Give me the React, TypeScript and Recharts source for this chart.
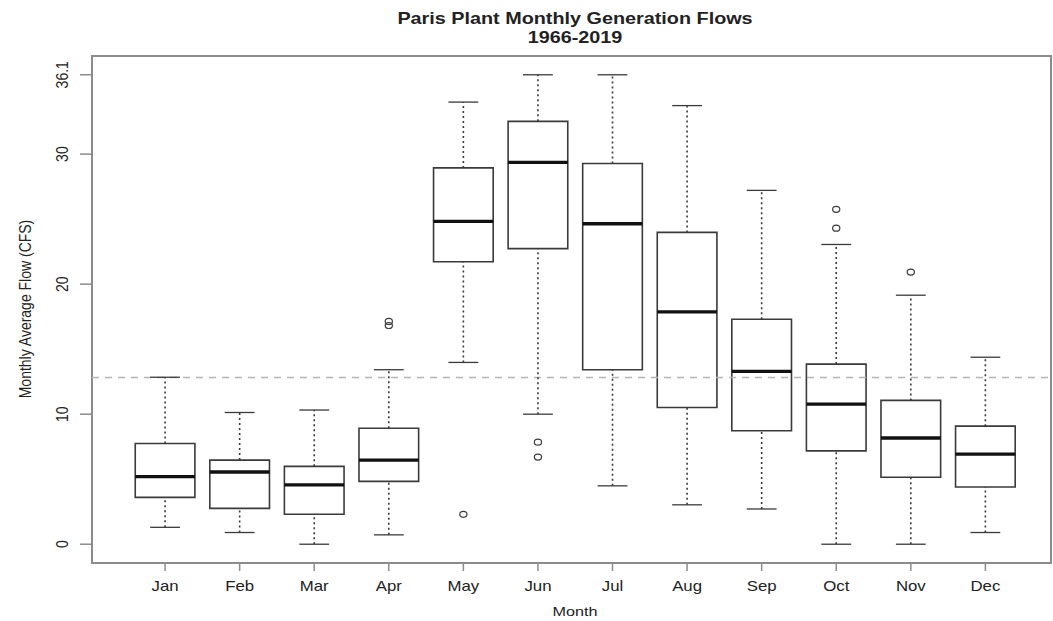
import React from 'react';
import {
  ComposedChart,
  XAxis,
  YAxis,
  Scatter,
  ReferenceArea,
  ReferenceLine,
} from 'recharts';

// ---------- data ----------
const months = ['Jan', 'Feb', 'Mar', 'Apr', 'May', 'Jun', 'Jul', 'Aug', 'Sep', 'Oct', 'Nov', 'Dec'];
const whiskerLow = [1.3, 0.9, 0.0, 0.72, 13.98, 10.0, 4.49, 3.03, 2.71, 0.0, 0.0, 0.9];
const quartile1 = [3.6, 2.76, 2.3, 4.83, 21.72, 22.73, 13.42, 10.51, 8.73, 7.18, 5.15, 4.4];
const medians = [5.2, 5.55, 4.56, 6.47, 24.83, 29.36, 24.64, 17.87, 13.29, 10.77, 8.17, 6.93];
const quartile3 = [7.74, 6.47, 5.99, 8.92, 28.94, 32.52, 29.28, 23.98, 17.3, 13.85, 11.06, 9.08];
const whiskerHigh = [12.84, 10.13, 10.32, 13.42, 34.0, 36.1, 36.1, 33.73, 27.21, 23.05, 19.15, 14.38];
const outlierMonths = [4, 4, 5, 6, 6, 10, 10, 11];
const outlierValues = [17.13, 16.82, 2.3, 7.85, 6.7, 25.75, 24.3, 20.93];
const referenceLevel = 12.82;
const yTicks = [0, 10, 20, 30, 36.1];
const xTicks = months.map((_, i) => i + 1);
const titleLines = ['Paris Plant Monthly Generation Flows', '1966-2019'];
const xLabel = 'Month';
const yLabel = 'Monthly Average Flow (CFS)';

// ---------- styling ----------
const W = 1053;
const H = 621;
const FONT = '"Liberation Sans", Arial, Helvetica, sans-serif';
const STRETCH = 1.2;
const BOX_HALF = 0.4;
const CAP_HALF = 0.2;
const BOX_STROKE = '#3a3a3a';
const AXIS_STROKE = '#8c8c8c';
const TEXT = '#222';

const outlierData = outlierMonths.map((m, i) => ({ x: m, y: outlierValues[i] }));

const XTick = (props: any) => {
  const { x, y, payload } = props;
  return (
    <text
      transform={`translate(${x},${y + 13}) scale(${STRETCH},1)`}
      textAnchor="middle"
      dominantBaseline="central"
      fontFamily={FONT}
      fontSize={14}
      fill={TEXT}
    >
      {months[payload.value - 1]}
    </text>
  );
};

const YTick = (props: any) => {
  const { x, y, payload } = props;
  return (
    <text
      transform={`translate(${x - 16},${y}) rotate(-90) scale(1,${STRETCH})`}
      textAnchor="middle"
      dominantBaseline="central"
      fontFamily={FONT}
      fontSize={14}
      fill={TEXT}
    >
      {String(payload.value)}
    </text>
  );
};

const Outlier = (props: any) => {
  const { cx, cy } = props;
  if (cx == null || cy == null) return null;
  return <ellipse cx={cx} cy={cy} rx={3.6} ry={3} fill="none" stroke={BOX_STROKE} strokeWidth={1.2} />;
};

export default function App() {
  const boxes: React.ReactNode[] = [];
  months.forEach((_, i) => {
    const c = i + 1;
    boxes.push(
      <ReferenceLine
        key={`wl${i}`}
        segment={[{ x: c, y: whiskerLow[i] }, { x: c, y: quartile1[i] }]}
        stroke={BOX_STROKE}
        strokeWidth={1.6}
        strokeDasharray="2 3"
      />,
      <ReferenceLine
        key={`wh${i}`}
        segment={[{ x: c, y: quartile3[i] }, { x: c, y: whiskerHigh[i] }]}
        stroke={BOX_STROKE}
        strokeWidth={1.6}
        strokeDasharray="2 3"
      />,
      <ReferenceLine
        key={`cl${i}`}
        segment={[{ x: c - CAP_HALF, y: whiskerLow[i] }, { x: c + CAP_HALF, y: whiskerLow[i] }]}
        stroke={BOX_STROKE}
        strokeWidth={1.3}
      />,
      <ReferenceLine
        key={`ch${i}`}
        segment={[{ x: c - CAP_HALF, y: whiskerHigh[i] }, { x: c + CAP_HALF, y: whiskerHigh[i] }]}
        stroke={BOX_STROKE}
        strokeWidth={1.3}
      />,
      <ReferenceArea
        key={`b${i}`}
        x1={c - BOX_HALF}
        x2={c + BOX_HALF}
        y1={quartile1[i]}
        y2={quartile3[i]}
        fill="none"
        fillOpacity={0}
        stroke={BOX_STROKE}
        strokeWidth={1.6}
      />,
      <ReferenceLine
        key={`m${i}`}
        segment={[{ x: c - BOX_HALF, y: medians[i] }, { x: c + BOX_HALF, y: medians[i] }]}
        stroke="#111"
        strokeWidth={3.4}
      />
    );
  });

  return (
    <div style={{ position: 'absolute', left: 0, top: 0, width: W, height: H, overflow: 'hidden', background: '#fff' }}>
      <ComposedChart width={W} height={H} margin={{ top: 56, right: 2, bottom: 0, left: 0 }}>
        <XAxis
          type="number"
          dataKey="x"
          domain={[0.02, 12.88]}
          ticks={xTicks}
          allowDataOverflow
          axisLine={false}
          tickLine={{ stroke: AXIS_STROKE, strokeWidth: 1.5 }}
          tickSize={8}
          tick={<XTick />}
          height={58}
          interval={0}
        />
        <YAxis
          type="number"
          dataKey="y"
          domain={[-1.444, 37.544]}
          ticks={yTicks}
          allowDataOverflow
          axisLine={false}
          tickLine={{ stroke: AXIS_STROKE, strokeWidth: 1.5 }}
          tickSize={12}
          tick={<YTick />}
          width={92}
          interval={0}
        />
        <ReferenceArea
          x1={0.02}
          x2={12.88}
          y1={-1.444}
          y2={37.544}
          fill="none"
          fillOpacity={0}
          stroke={AXIS_STROKE}
          strokeWidth={2}
        />
        <ReferenceLine y={referenceLevel} stroke="#b5b5b5" strokeWidth={1.5} strokeDasharray="7 6" />
        {boxes}
        <Scatter data={outlierData} dataKey="y" isAnimationActive={false} shape={<Outlier />} />
      </ComposedChart>
      <svg width={W} height={H} style={{ position: 'absolute', left: 0, top: 0, pointerEvents: 'none' }}>
        <g fontFamily={FONT} fill={TEXT}>
          <text transform={`translate(575,19) scale(${STRETCH},1)`} textAnchor="middle" dominantBaseline="central" fontSize={16.5} fontWeight="bold">
            {titleLines[0]}
          </text>
          <text transform={`translate(575,37.5) scale(${STRETCH},1)`} textAnchor="middle" dominantBaseline="central" fontSize={16.5} fontWeight="bold">
            {titleLines[1]}
          </text>
          <text transform={`translate(575,611) scale(${STRETCH},1)`} textAnchor="middle" dominantBaseline="central" fontSize={13.5}>
            {xLabel}
          </text>
          <text transform={`translate(25,309) rotate(-90) scale(1,${STRETCH})`} textAnchor="middle" dominantBaseline="central" fontSize={14}>
            {yLabel}
          </text>
        </g>
      </svg>
    </div>
  );
}
